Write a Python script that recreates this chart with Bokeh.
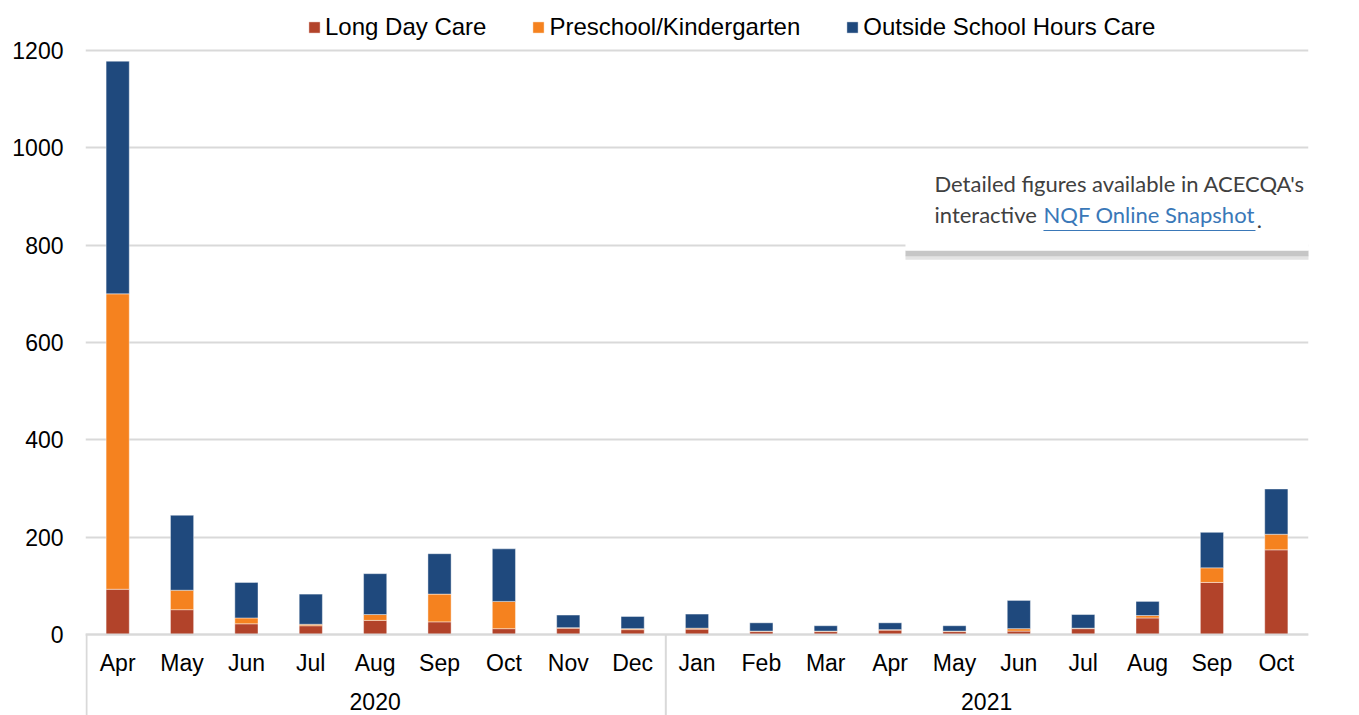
from bokeh.plotting import figure
from bokeh.models import (FactorRange, Range1d, Legend, LegendItem, Label,
                          BoxAnnotation, FixedTicker, ColumnDataSource)
from bokeh.embed import file_html
from bokeh.resources import INLINE

years = ["2020"] * 9 + ["2021"] * 10
months = ["Apr", "May", "Jun", "Jul", "Aug", "Sep", "Oct", "Nov", "Dec",
          "Jan", "Feb", "Mar", "Apr", "May", "Jun", "Jul", "Aug", "Sep", "Oct"]
long_day_care = [93, 51, 22, 18, 29, 26, 12, 13, 10, 11, 6, 6, 9, 6, 7, 12, 34, 107, 174]
preschool = [607, 40, 12, 3, 12, 57, 56, 1, 2, 2, 1, 1, 1, 1, 5, 1, 5, 30, 32]
oshc = [478, 154, 73, 62, 84, 83, 108, 26, 25, 29, 17, 11, 14, 11, 58, 28, 29, 73, 93]
series = ["Long Day Care", "Preschool/Kindergarten", "Outside School Hours Care"]
colors = ["#B2432A", "#F5821F", "#1F497D"]
y_ticks = [0, 200, 400, 600, 800, 1000, 1200]

FONT = "Liberation Sans"
FS = "23px"
x = list(zip(years, months))
source = ColumnDataSource(dict(x=x, ldc=long_day_care, pk=preschool, oshc=oshc))

# frame fills the canvas height (0..715); the 1200 line is 50px from the top,
# the 0 line 634px from the top
UPP = 1200 / 584  # data units per pixel
Y_END = 1200 + 50 * UPP
Y_START = -(715 - 634) * UPP
p = figure(width=1359, height=715, output_backend="svg", toolbar_location=None,
           x_range=FactorRange(*x, range_padding=0, group_padding=0, factor_padding=0),
           y_range=Range1d(Y_START, Y_END),
           min_border_left=85, min_border_right=51, min_border_top=0, min_border_bottom=0)
p.outline_line_color = None

rs = p.vbar_stack(["ldc", "pk", "oshc"], x="x", width=0.36, source=source,
                  color=colors, line_color="white", line_width=0.6, line_alpha=0.7)

legend = Legend(items=[LegendItem(label=s, renderers=[r]) for s, r in zip(series, rs)],
                orientation="horizontal", location=(222, 674),
                glyph_width=14, glyph_height=14, label_standoff=4, spacing=45,
                padding=0, margin=0, border_line_color=None, background_fill_alpha=0,
                label_text_font=FONT, label_text_font_size="24px", label_text_color="black")
p.add_layout(legend, "center")

p.xgrid.grid_line_color = None
p.ygrid.grid_line_color = "#D9D9D9"
p.ygrid.grid_line_width = 2
p.yaxis.ticker = FixedTicker(ticks=y_ticks)
p.yaxis.axis_line_color = None
p.yaxis.major_tick_line_color = None
p.yaxis.minor_tick_line_color = None
p.yaxis.major_label_standoff = 16
p.yaxis.major_label_text_font = FONT
p.yaxis.major_label_text_font_size = FS
p.yaxis.major_label_text_color = "black"

xa = p.xaxis[0]
xa.fixed_location = 0
xa.axis_line_color = "#D9D9D9"
xa.axis_line_width = 2
xa.major_tick_line_color = None
xa.minor_tick_line_color = None
xa.major_label_text_font = FONT
xa.major_label_text_font_size = FS
xa.major_label_text_color = "black"
xa.major_label_standoff = 9
xa.group_text_font = FONT
xa.group_text_font_size = FS
xa.group_text_font_style = "normal"
xa.group_text_color = None
xa.separator_line_color = None

# year labels and group separators below the month labels
year_names = ["2020", "2021"]
year_centers = [years.count("2020") / 2, years.count("2020") + years.count("2021") / 2]
for yn, yc in zip(year_names, year_centers):
    p.add_layout(Label(x=yc, y=-(701 - 634) * UPP, text=yn, text_align="center",
                       text_baseline="middle", text_font=FONT, text_font_size=FS,
                       text_color="black"))
for sx in [0, years.count("2020")]:
    p.add_layout(BoxAnnotation(left=sx, right=sx + 2 / 64.37, bottom=Y_START, top=0,
                               fill_color="#D9D9D9", fill_alpha=1, line_color=None))

# Annotation box with soft shadow
BL = (905 - 85) / 64.37
p.add_layout(BoxAnnotation(left=BL, right=20.5, bottom=770, top=779,
                           fill_color="#E3E3E3", fill_alpha=1, line_color=None))
p.add_layout(BoxAnnotation(left=BL, right=20.5, bottom=777, top=789,
                           fill_color="#C6C6C6", fill_alpha=1, line_color=None))
p.add_layout(BoxAnnotation(left=BL, right=20.5, bottom=789, top=975,
                           fill_color="white", fill_alpha=1, line_color=None))
TF = "Lato"
TXT = "#404040"
LINK = "#3A78B8"
TX = (934 - 85) / 64.37
p.add_layout(Label(x=TX, y=899, text="Detailed figures available in ACECQA's",
                   text_font=TF, text_font_size="22px", text_color=TXT))
p.add_layout(Label(x=TX, y=835, text="interactive",
                   text_font=TF, text_font_size="22px", text_color=TXT))
LX0 = (1043 - 85) / 64.37
LX1 = (1255 - 85) / 64.37
p.add_layout(Label(x=LX0, y=835, text="NQF Online Snapshot",
                   text_font=TF, text_font_size="22px", text_color=LINK))
p.add_layout(Label(x=LX1 + 0.02, y=835, text=".",
                   text_font=TF, text_font_size="22px", text_color=TXT))
p.add_layout(BoxAnnotation(left=LX0, right=LX1, bottom=829, top=831,
                           fill_color=LINK, fill_alpha=1, line_color=None))

open("out.html", "w").write(file_html(p, INLINE))
